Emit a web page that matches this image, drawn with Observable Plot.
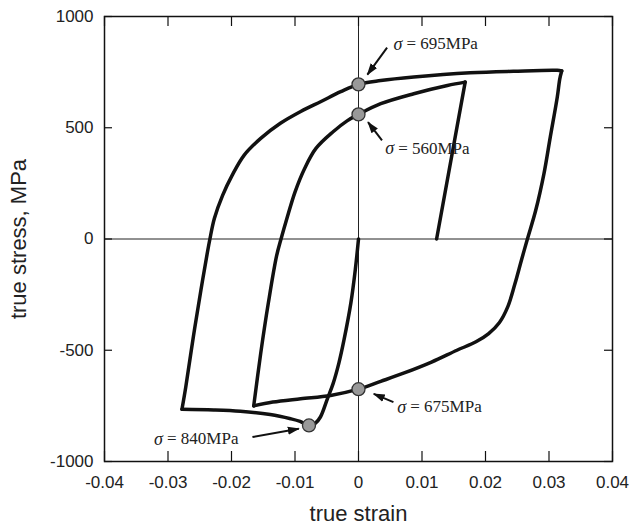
<!DOCTYPE html>
<html><head><meta charset="utf-8">
<script src="https://cdn.jsdelivr.net/npm/d3@7"></script>
<script src="https://cdn.jsdelivr.net/npm/@observablehq/plot@0.6"></script>
<style>body{margin:0;background:#fff}#chart svg{display:block}</style>
</head><body><div id="chart"></div>
<script>
// hysteresis path, in drawing order (true strain, true stress MPa)
const strain = [0, -0.0005, -0.0012, -0.0023, -0.0031, -0.0040, -0.0049, -0.0060, -0.0068, -0.0078,
  -0.0092, -0.0107, -0.0139, -0.0186, -0.0228, -0.0278,
  -0.0272, -0.0260, -0.0248, -0.0238, -0.0234, -0.0227, -0.0214, -0.0199, -0.0180, -0.0154, -0.0123, -0.0091, -0.0059, -0.0028, 0, 0.0035, 0.0087, 0.0176, 0.0244, 0.0313, 0.0320,
  0.0317, 0.0313, 0.0302, 0.0292, 0.0279, 0.0266, 0.0257, 0.0246, 0.0235, 0.0222, 0.0205, 0.0185, 0.0155, 0.0115, 0.0072, 0.0035, 0, -0.0044, -0.0091, -0.0135, -0.0165,
  -0.0154, -0.0142, -0.0129, -0.0122, -0.0113, -0.0100, -0.0085, -0.0067, -0.0040, -0.0018, 0, 0.0035, 0.0087, 0.0140, 0.0168,
  0.0123];
const stress = [0, -137, -287, -456, -559, -650, -718, -800, -828, -838,
  -820, -808, -789, -774, -768, -765,
  -665, -438, -227, -61, 0, 92, 196, 286, 377, 452, 520, 573, 618, 662, 695, 712, 728, 747, 754, 758, 755,
  720, 637, 458, 293, 128, 0, -91, -205, -305, -375, -425, -462, -500, -553, -602, -640, -675, -703, -718, -733, -750,
  -514, -288, -76, 0, 90, 211, 316, 407, 482, 531, 560, 608, 653, 690, 705,
  0];
// index of the first point of each branch (loading reversals); each branch starts at the previous one's last point
const branchStart = [0, 15, 36, 57, 72];

// marked points
const dotStrain = [0, 0, 0, -0.0078];
const dotStress = [695, 560, -675, -838];

// annotations
const labelText = ["= 695MPa", "= 560MPa", "= 675MPa", "= 840MPa"];
const labelStrain = [0.0055, 0.0042, 0.0061, -0.0322];
const labelStress = [877, 407, -755, -898];
const arrowFromStrain = [0.0045, 0.0037, 0.0055, -0.0167];
const arrowFromStress = [860, 443, -733, -890];
const arrowToStrain = [0.0014, 0.0015, 0.0024, -0.0094];
const arrowToStress = [739, 525, -696, -853];

const xTicks = [-0.04, -0.03, -0.02, -0.01, 0, 0.01, 0.02, 0.03, 0.04];
const yTicks = [-1000, -500, 0, 500, 1000];
const xTitle = "true strain";
const yTitle = "true stress, MPa";

const path = [];
branchStart.forEach((s, b) => {
  const e = b + 1 < branchStart.length ? branchStart[b + 1] : strain.length - 1;
  for (let i = s; i <= e; i++) path.push({x: strain[i], y: stress[i], branch: b});
});
const dots = dotStrain.map((x, i) => ({x, y: dotStress[i]}));
const labels = labelText.map((t, i) => ({t, x: labelStrain[i], y: labelStress[i]}));
const arrows = arrowFromStrain.map((x1, i) => ({x1, y1: arrowFromStress[i], x2: arrowToStrain[i], y2: arrowToStress[i]}));

const fmtX = d => d === 0 ? "0" : d.toFixed(2);
const fmtY = d => String(d);

const W = 629, H = 526, ML = 104, MR = 17, MT = 16, MB = 65;
const innerW = W - ML - MR, innerH = H - MT - MB;
const tickLenX = 10, tickLenY = 8;

const headMarker = (color) => {
  const m = d3.create("svg:marker")
    .attr("viewBox", "-11 -5 12 10")
    .attr("markerUnits", "userSpaceOnUse")
    .attr("markerWidth", 12).attr("markerHeight", 10)
    .attr("refX", 0).attr("refY", 0)
    .attr("orient", "auto")
    .attr("fill", color).attr("stroke", "none");
  m.append("path").attr("d", "M-11,-4L1,0L-11,4Z");
  return m.node();
};

const font = "'Liberation Sans', Arial, sans-serif";
const serif = "'Liberation Serif', 'Times New Roman', serif";

const plot = Plot.plot({
  width: W, height: H,
  marginLeft: ML, marginRight: MR, marginTop: MT, marginBottom: MB,
  style: {fontFamily: font, fontSize: "17px", color: "#222", background: "#fff"},
  x: {domain: [-0.04, 0.04]},
  y: {domain: [-1000, 1000]},
  marks: [
    Plot.ruleX([0], {stroke: "#222", strokeWidth: 1}),
    Plot.ruleY([0], {stroke: "#222", strokeWidth: 1}),
    Plot.axisX(xTicks, {anchor: "bottom", tickSize: 0, tickPadding: 14, tickFormat: fmtX, fontSize: 17, label: null}),
    Plot.axisY(yTicks, {anchor: "left", tickSize: 0, tickPadding: 11, tickFormat: fmtY, fontSize: 17, label: null}),
    // inward ticks on all four sides
    Plot.tickX(xTicks, {x: d => d, stroke: "#111", strokeWidth: 1.2, insetTop: innerH - tickLenX}),
    Plot.tickX(xTicks, {x: d => d, stroke: "#111", strokeWidth: 1.2, insetBottom: innerH - tickLenX}),
    Plot.tickY(yTicks, {y: d => d, stroke: "#111", strokeWidth: 1.2, insetRight: innerW - tickLenY}),
    Plot.tickY(yTicks, {y: d => d, stroke: "#111", strokeWidth: 1.2, insetLeft: innerW - tickLenY}),
    Plot.frame({stroke: "#111", strokeWidth: 1.5}),
    Plot.text([xTitle], {frameAnchor: "bottom", dy: 52, fontSize: 22, fill: "#222", lineAnchor: "middle", textAnchor: "middle"}),
    Plot.text([yTitle], {frameAnchor: "left", dx: -86, rotate: -90, fontSize: 22, fill: "#222", lineAnchor: "middle", textAnchor: "middle"}),
    Plot.line(path, {x: "x", y: "y", z: "branch", stroke: "#111", strokeWidth: 3.5, strokeLinejoin: "round", strokeLinecap: "round", curve: "catmull-rom"}),
    Plot.link(arrows, {x1: "x1", y1: "y1", x2: "x2", y2: "y2", stroke: "#111", strokeWidth: 2, markerEnd: headMarker}),
    Plot.dot(dots, {x: "x", y: "y", r: 6.5, fill: "#999", stroke: "#333", strokeWidth: 1.3}),
    Plot.text(labels, {x: "x", y: "y", text: () => "σ", textAnchor: "start", fontFamily: serif, fontStyle: "italic", fontSize: 18, fill: "#222"}),
    Plot.text(labels, {x: "x", y: "y", text: "t", dx: 13, textAnchor: "start", fontFamily: serif, fontSize: 17, fill: "#222"})
  ]
});
document.getElementById("chart").appendChild(plot);
</script>
</body></html>
